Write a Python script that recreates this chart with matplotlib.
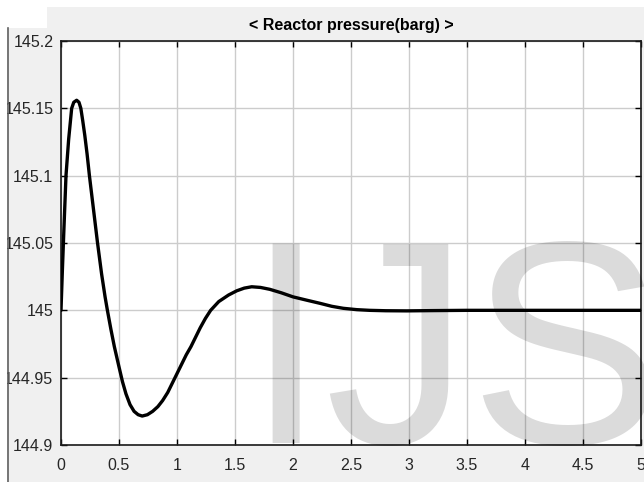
import matplotlib
matplotlib.use('Agg')
import matplotlib.pyplot as plt
from matplotlib.patches import Rectangle
from matplotlib.lines import Line2D
from matplotlib.ticker import FuncFormatter

plt.rcParams['font.family'] = ['Liberation Sans', 'DejaVu Sans']

# 反应器压力响应 (时间 s, 压力 barg)
time_s = [0, 0.012, 0.025, 0.043, 0.066, 0.092, 0.11, 0.135, 0.155, 0.171,
          0.187, 0.205, 0.225, 0.245, 0.28, 0.315, 0.35, 0.38, 0.40, 0.43,
          0.46, 0.50, 0.53, 0.56, 0.595, 0.63, 0.665, 0.70, 0.745, 0.79,
          0.835, 0.876, 0.92, 0.96, 1.0, 1.04, 1.08, 1.12, 1.16, 1.2,
          1.245, 1.29, 1.36, 1.445, 1.515, 1.58, 1.644, 1.72, 1.80, 1.90,
          2.0, 2.12, 2.233, 2.334, 2.434, 2.55, 2.66, 2.8, 2.98, 3.2,
          3.5, 4.0, 4.5, 5.0]
pressure = [145.0, 145.03, 145.06, 145.10, 145.127, 145.15, 145.1545, 145.156, 145.1545, 145.15,
            145.141, 145.13, 145.116, 145.10, 145.075, 145.05, 145.027, 145.01, 145.0, 144.986,
            144.973, 144.958, 144.947, 144.938, 144.93, 144.925, 144.9225, 144.9215, 144.9225, 144.925,
            144.9285, 144.933, 144.939, 144.946, 144.953, 144.96, 144.967, 144.973, 144.980, 144.987,
            144.994, 145.0, 145.0065, 145.0114, 145.0145, 145.0165, 145.0175, 145.017, 145.0156, 145.013,
            145.010, 145.0075, 145.0052, 145.003, 145.0015, 145.0005, 145.0, 144.9997, 144.9996, 144.9998,
            145.0, 145.0, 145.0, 145.0]

x_ticks = [0, 0.5, 1, 1.5, 2, 2.5, 3, 3.5, 4, 4.5, 5]
y_ticks = [144.9, 144.95, 145.0, 145.05, 145.1, 145.15, 145.2]
title = '< Reactor pressure(barg) >'

fig = plt.figure(figsize=(6.44, 4.82), dpi=100, facecolor='#f0f0f0')
ax = fig.add_axes([61 / 644, 37 / 482, 580 / 644, 404 / 482])
ax.set_facecolor('white')

ax.plot(time_s, pressure, color='black', linewidth=2.4, zorder=3,
        solid_joinstyle='round', solid_capstyle='round')

ax.set_xlim(0, 5)
ax.set_ylim(144.9, 145.2)
ax.set_xticks(x_ticks)
ax.set_yticks(y_ticks)
fmt = FuncFormatter(lambda v, p: '%g' % round(v, 4))
ax.xaxis.set_major_formatter(fmt)
ax.yaxis.set_major_formatter(fmt)
ax.tick_params(direction='in', length=4, width=1, top=True, right=True,
               labelsize=11.5, labelcolor='#262626', colors='black')
ax.tick_params(axis='x', pad=9)
ax.tick_params(axis='y', pad=5.5)
ax.grid(True, color='#cccccc', linewidth=1)
for s in ax.spines.values():
    s.set_linewidth(1.2)
    s.set_color('#1a1a1a')

ax.set_title(title, fontsize=11.5, fontweight='bold', pad=8)

# 水印
fig.text(245 / 644, 39 / 482, 'IJS', fontsize=208, color='black', alpha=0.14,
         ha='left', va='baseline', zorder=10)

# 窗口边框
fig.patches.append(Rectangle((0, 1 - 7 / 482), 1, 7 / 482, transform=fig.transFigure,
                             facecolor='white', edgecolor='none', zorder=20))
fig.patches.append(Rectangle((0, 1 - 28 / 482), 47 / 644, 28 / 482, transform=fig.transFigure,
                             facecolor='white', edgecolor='none', zorder=20))
fig.patches.append(Rectangle((0, 0), 7 / 644, 1 - 28 / 482, transform=fig.transFigure,
                             facecolor='white', edgecolor='none', zorder=20))
fig.lines.append(Line2D([7.5 / 644, 7.5 / 644], [0, 1 - 28 / 482], transform=fig.transFigure,
                        color='#606060', linewidth=1.2, zorder=21))

fig.savefig('out.png', dpi=100, facecolor=fig.get_facecolor())
